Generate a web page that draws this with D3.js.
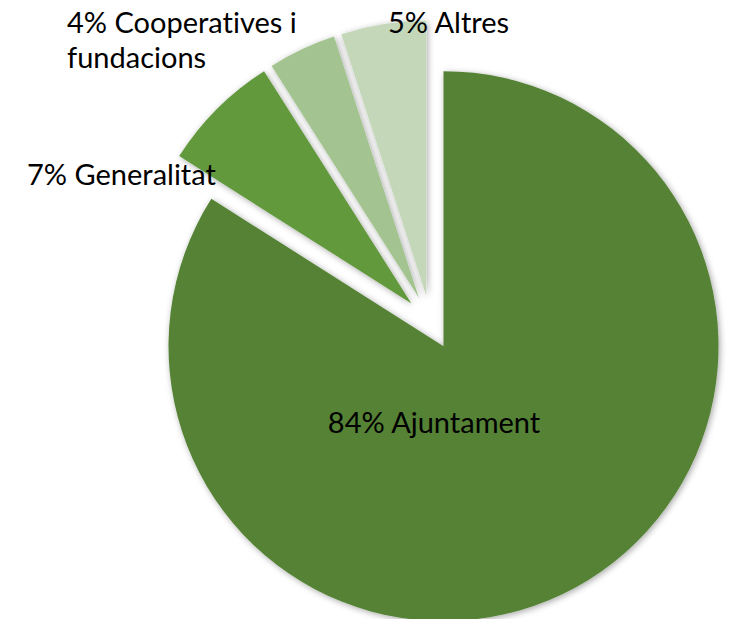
<!DOCTYPE html>
<html>
<head>
<meta charset="utf-8">
<script src="https://cdn.jsdelivr.net/npm/d3@7"></script>
<style>
  html, body { margin: 0; padding: 0; background: #fff; }
  svg { display: block; }
  text { font-variant-ligatures: none; font-feature-settings: "liga" 0, "clig" 0; }
</style>
</head>
<body>
<svg id="chart" width="735" height="619"></svg>
<script>
// ---- data ----
const categories = ["Ajuntament", "Generalitat", "Cooperatives i fundacions", "Altres"];
const values = [84, 7, 4, 5];
const labelLines = [["84% Ajuntament"], ["7% Generalitat"], ["4% Cooperatives i", "fundacions"], ["5% Altres"]];
const colors = ["#548235", "#63993D", "#A3C490", "#C4D8B9"];

// ---- layout ----
const W = 735, H = 619;
const cx = 430.5, cy = 322.5, R = 275, explode = 27;
const fontSize = 29;
const lineH = 35;
// label anchors (x, first baseline, text-anchor)
const labelPos = [
  { x: 434, y: 433, anchor: "middle" },
  { x: 27, y: 185, anchor: "start" },
  { x: 67, y: 33, anchor: "start" },
  { x: 388, y: 33, anchor: "start" }
];

const svg = d3.select("#chart");
const defs = svg.append("defs");
const f = defs.append("filter").attr("id", "shadow")
  .attr("x", "-20%").attr("y", "-20%").attr("width", "140%").attr("height", "140%");
f.append("feDropShadow").attr("dx", 1.5).attr("dy", 1.5).attr("stdDeviation", 3)
  .attr("flood-color", "#000").attr("flood-opacity", 0.35);

const pie = d3.pie().sort(null).value(d => d)
  .startAngle(0).endAngle(2 * Math.PI);
const arcs = pie(values);
const arc = d3.arc().innerRadius(0).outerRadius(R);

const g = svg.append("g").attr("transform", `translate(${cx},${cy})`);

g.selectAll("path.slice").data(arcs).enter().append("path")
  .attr("class", "slice")
  .attr("d", arc)
  .attr("fill", (d, i) => colors[i])
  .attr("filter", "url(#shadow)")
  .attr("transform", d => {
    const a = (d.startAngle + d.endAngle) / 2;
    return `translate(${explode * Math.sin(a)},${-explode * Math.cos(a)})`;
  });

const labels = svg.append("g")
  .attr("font-family", "Lato, 'Open Sans', sans-serif")
  .attr("font-size", fontSize)
  .attr("fill", "#000");

labelLines.forEach((lines, i) => {
  const p = labelPos[i];
  const t = labels.append("text")
    .attr("x", p.x).attr("y", p.y)
    .attr("text-anchor", p.anchor);
  lines.forEach((ln, j) => {
    t.append("tspan").attr("x", p.x).attr("y", p.y + j * lineH).text(ln);
  });
});
</script>
</body>
</html>
